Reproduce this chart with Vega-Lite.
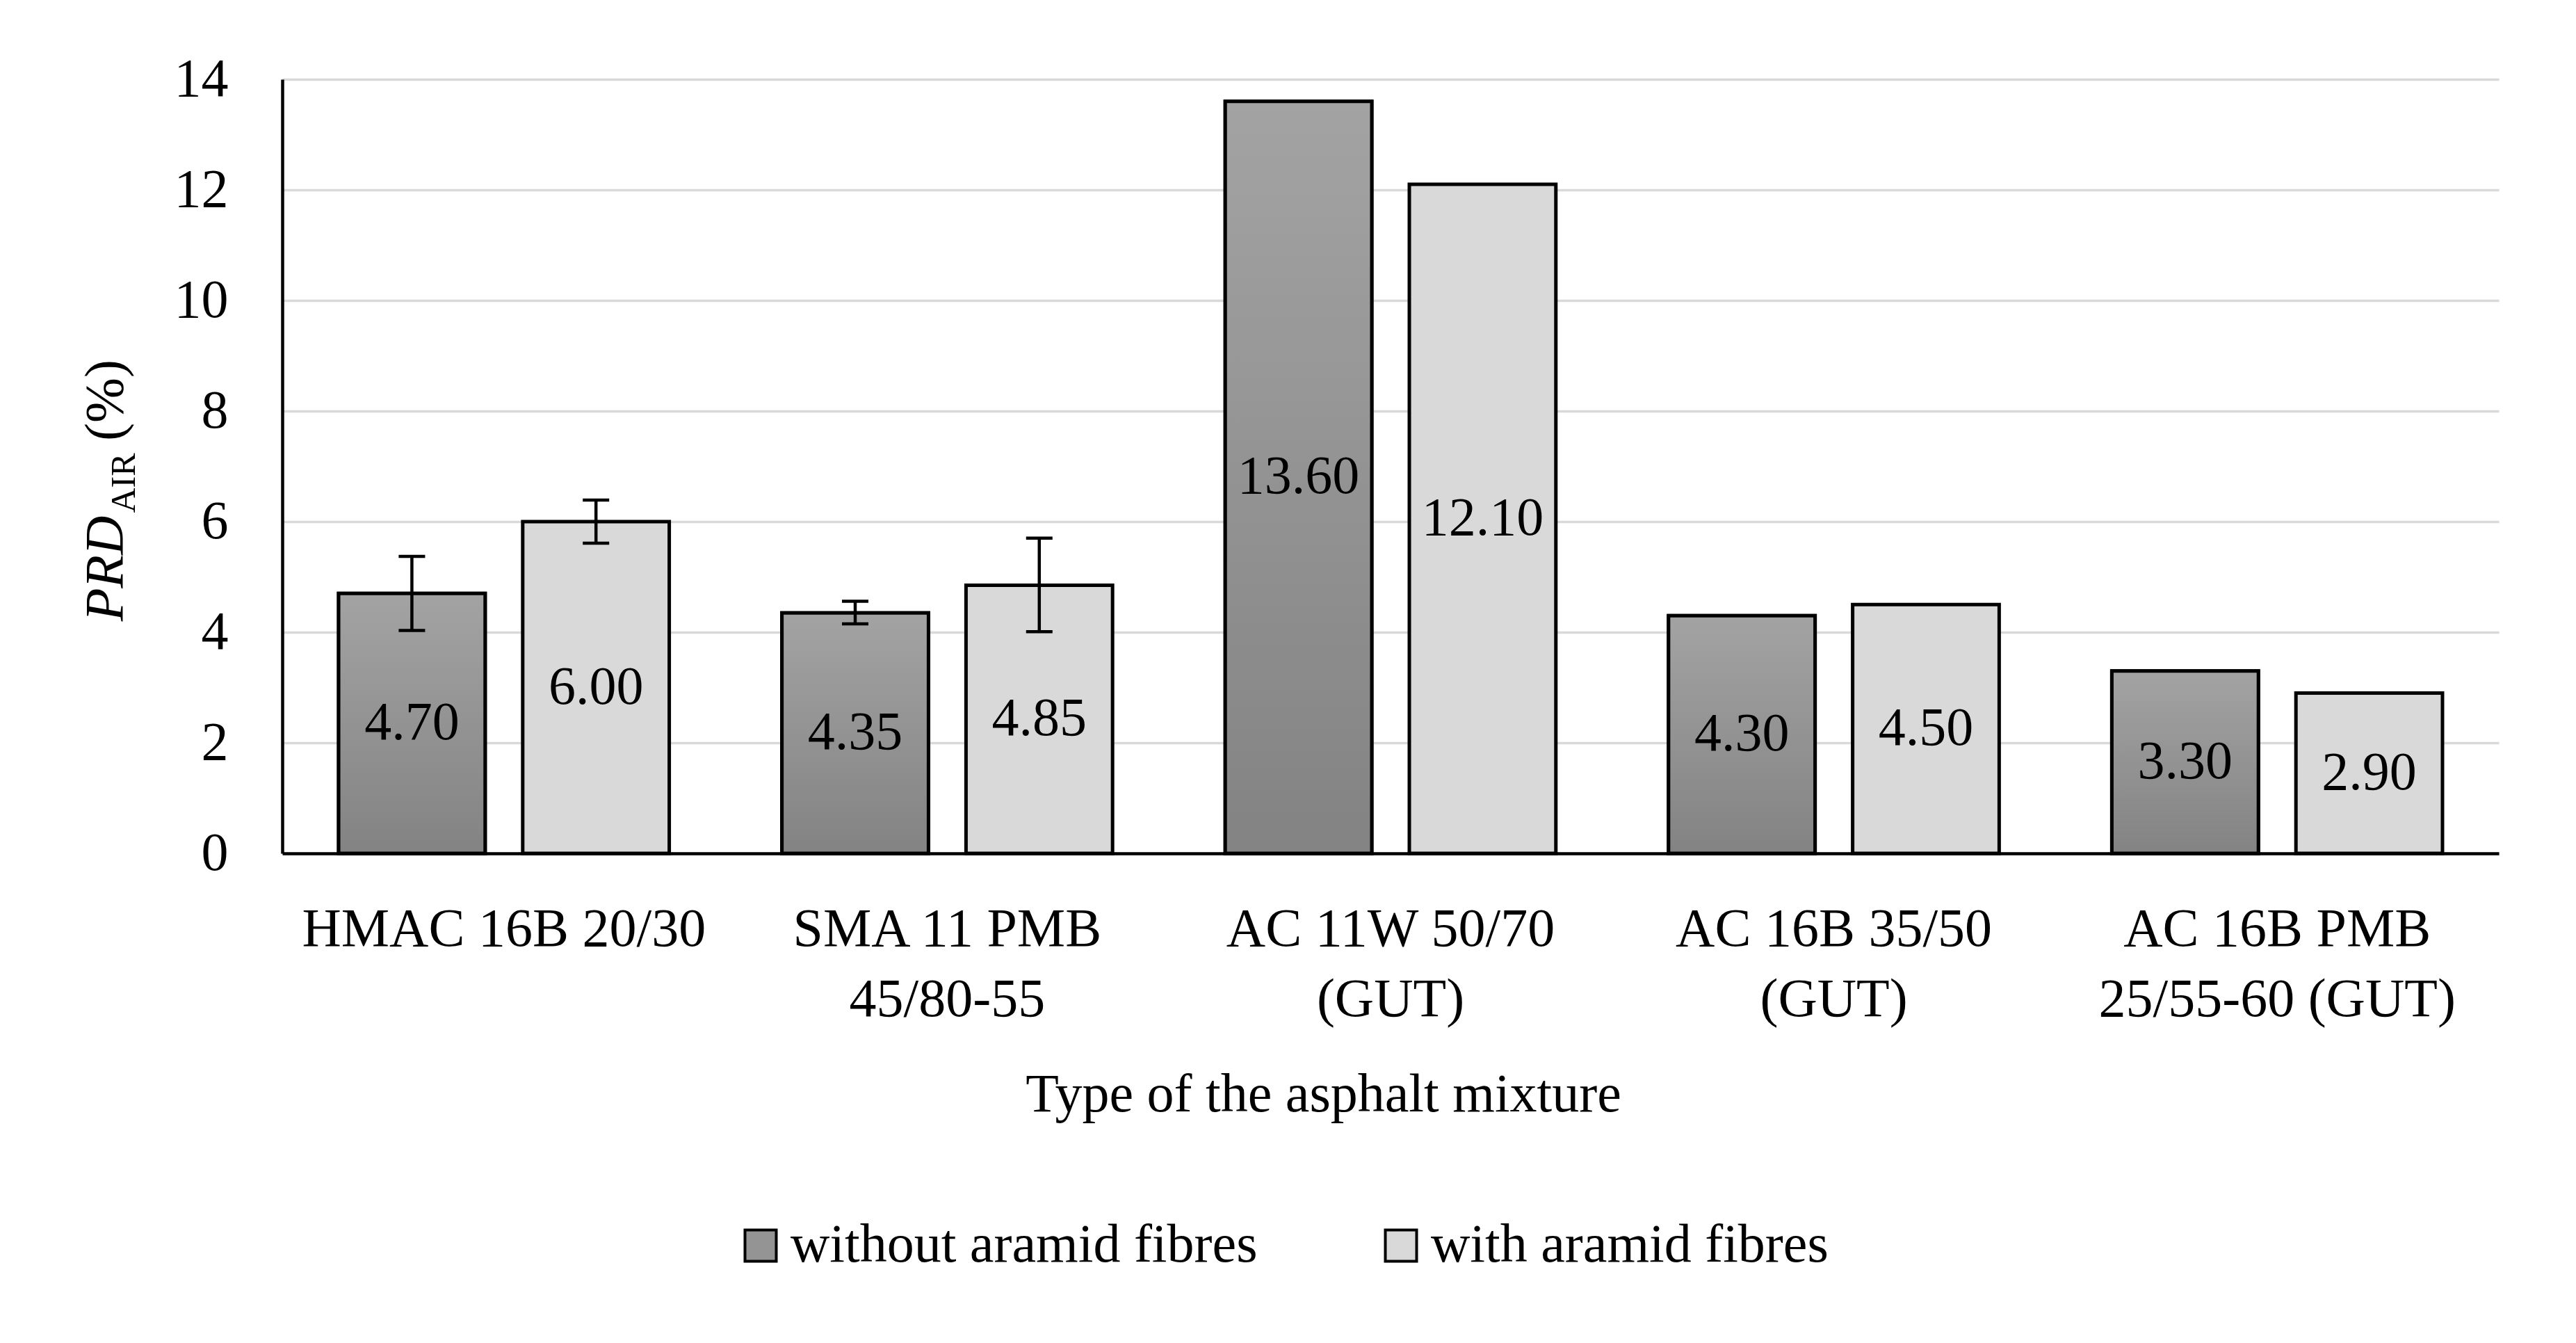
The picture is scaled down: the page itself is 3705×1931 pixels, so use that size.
{
  "$schema": "https://vega.github.io/schema/vega-lite/v6.json",
  "width": 3188,
  "height": 1113,
  "autosize": {"type": "none"},
  "padding": {"left": 406, "top": 114, "right": 111, "bottom": 704},
  "background": "white",
  "config": {"view": {"stroke": null}, "font": "Liberation Serif"},
  "data": {
    "values": [
      {"mix": "HMAC 16B 20/30", "type": "without aramid fibres", "value": 4.70, "lo": 4.03, "hi": 5.37},
      {"mix": "HMAC 16B 20/30", "type": "with aramid fibres", "value": 6.00, "lo": 5.61, "hi": 6.39},
      {"mix": "SMA 11 PMB\n45/80-55", "type": "without aramid fibres", "value": 4.35, "lo": 4.15, "hi": 4.56},
      {"mix": "SMA 11 PMB\n45/80-55", "type": "with aramid fibres", "value": 4.85, "lo": 4.01, "hi": 5.70},
      {"mix": "AC 11W 50/70\n(GUT)", "type": "without aramid fibres", "value": 13.60, "lo": null, "hi": null},
      {"mix": "AC 11W 50/70\n(GUT)", "type": "with aramid fibres", "value": 12.10, "lo": null, "hi": null},
      {"mix": "AC 16B 35/50\n(GUT)", "type": "without aramid fibres", "value": 4.30, "lo": null, "hi": null},
      {"mix": "AC 16B 35/50\n(GUT)", "type": "with aramid fibres", "value": 4.50, "lo": null, "hi": null},
      {"mix": "AC 16B PMB\n25/55-60 (GUT)", "type": "without aramid fibres", "value": 3.30, "lo": null, "hi": null},
      {"mix": "AC 16B PMB\n25/55-60 (GUT)", "type": "with aramid fibres", "value": 2.90, "lo": null, "hi": null}
    ]
  },
  "encoding": {
    "x": {
      "field": "mix",
      "type": "nominal",
      "sort": null,
      "scale": {"paddingInner": 0, "paddingOuter": 0},
      "axis": {
        "title": "Type of the asphalt mixture",
        "titleFont": "Liberation Serif",
        "titleFontSize": 78,
        "titleFontWeight": "normal",
        "titleColor": "black",
        "titleX": 1497,
        "titleY": 370,
        "titleAlign": "center",
        "titleBaseline": "alphabetic",
        "labelAngle": 0,
        "labelFont": "Liberation Serif",
        "labelFontSize": 78,
        "labelColor": "black",
        "labelLimit": 3000,
        "labelLineHeight": 101,
        "labelBaseline": "alphabetic",
        "labelPadding": 132,
        "labelExpr": "split(datum.label, '\\n')",
        "ticks": false,
        "tickSize": 0,
        "domainColor": "black",
        "domainWidth": 4.5,
        "grid": false
      }
    },
    "xOffset": {
      "field": "type",
      "type": "nominal",
      "scale": {"domain": ["without aramid fibres", "with aramid fibres"], "paddingInner": 0.204, "paddingOuter": 0.306}
    }
  },
  "layer": [
    {
      "layer": [
        {
          "mark": {"type": "bar", "stroke": "black", "strokeWidth": 5},
          "encoding": {
            "y": {
              "field": "value",
              "type": "quantitative",
              "title": "PRD",
              "scale": {"domain": [0, 14]},
              "axis": {
                "title": "PRD",
                "titleFont": "Liberation Serif",
                "titleFontStyle": "italic",
                "titleFontSize": 78,
                "titleFontWeight": "normal",
                "titleColor": "black",
                "titleX": -231,
                "titleY": 703,
                "titleAngle": 270,
                "titleAlign": "center",
                "titleBaseline": "alphabetic",
                "values": [0, 2, 4, 6, 8, 10, 12, 14],
                "format": "d",
                "labelFont": "Liberation Serif",
                "labelFontSize": 78,
                "labelColor": "black",
                "labelPadding": 78,
                "ticks": false,
                "tickSize": 0,
                "domainColor": "black",
                "domainWidth": 4.5,
                "grid": true,
                "gridColor": "#d9d9d9",
                "gridWidth": 3.5
              }
            },
            "fill": {
              "field": "type",
              "type": "nominal",
              "scale": {
                "domain": ["without aramid fibres", "with aramid fibres"],
                "range": ["#949494", "#d9d9d9"]
              },
              "legend": {
                "title": null,
                "orient": "none",
                "legendX": 649,
                "legendY": 1638,
                "direction": "horizontal",
                "padding": 0,
                "symbolType": "square",
                "symbolSize": 2025,
                "symbolStrokeColor": "black",
                "symbolStrokeWidth": 4,
                "symbolOpacity": 1,
                "labelFont": "Liberation Serif",
                "labelFontSize": 78,
                "labelColor": "black",
                "labelLimit": 3000,
                "labelOffset": 4,
                "columnPadding": 167
              }
            }
          }
        },
        {
          "transform": [{"filter": "datum.type === 'without aramid fibres'"}],
          "mark": {
            "type": "bar",
            "stroke": "black",
            "strokeWidth": 5,
            "fill": {"gradient": "linear", "x1": 0, "y1": 0, "x2": 0, "y2": 1, "stops": [{"offset": 0, "color": "#a3a3a3"}, {"offset": 1, "color": "#838383"}]}
          },
          "encoding": {
            "y": {"field": "value", "type": "quantitative", "title": "PRD"}
          }
        },
        {
          "transform": [{"filter": "isValid(datum.lo)"}],
          "mark": {"type": "rule", "strokeWidth": 4.5, "color": "black"},
          "encoding": {
            "y": {"field": "lo", "type": "quantitative", "title": "PRD"},
            "y2": {"field": "hi"}
          }
        },
        {
          "transform": [{"filter": "isValid(datum.hi)"}],
          "mark": {"type": "tick", "thickness": 4.5, "size": 38, "color": "black", "opacity": 1},
          "encoding": {
            "y": {"field": "hi", "type": "quantitative", "title": "PRD"}
          }
        }
      ]
    },
    {
      "mark": {"type": "text", "font": "Liberation Serif", "fontSize": 78, "baseline": "middle", "align": "center", "color": "black"},
      "encoding": {
        "y": {
          "field": "value",
          "type": "quantitative",
          "scale": {"domain": [0, 28]},
          "axis": {
            "orient": "left",
            "title": "AIR",
            "titleFont": "Liberation Serif",
            "titleFontSize": 50,
            "titleFontWeight": "normal",
            "titleFontStyle": "normal",
            "titleColor": "black",
            "titleX": -213,
            "titleY": 580,
            "titleAngle": 270,
            "titleAlign": "center",
            "titleBaseline": "alphabetic",
            "labels": false,
            "ticks": false,
            "domain": false,
            "grid": false
          }
        },
        "text": {"field": "value", "type": "quantitative", "format": ".2f"}
      }
    },
    {
      "transform": [{"filter": "isValid(datum.lo)"}],
      "mark": {"type": "tick", "thickness": 4.5, "size": 38, "color": "black", "opacity": 1},
      "encoding": {
        "y": {
          "field": "lo",
          "type": "quantitative",
          "scale": {"domain": [0, 14]},
          "axis": {
            "orient": "left",
            "title": "(%)",
            "titleFont": "Liberation Serif",
            "titleFontSize": 78,
            "titleFontWeight": "normal",
            "titleFontStyle": "normal",
            "titleColor": "black",
            "titleX": -231,
            "titleY": 461,
            "titleAngle": 270,
            "titleAlign": "center",
            "titleBaseline": "alphabetic",
            "labels": false,
            "ticks": false,
            "domain": false,
            "grid": false
          }
        }
      }
    }
  ],
  "resolve": {"scale": {"y": "independent"}, "axis": {"y": "independent"}}
}
